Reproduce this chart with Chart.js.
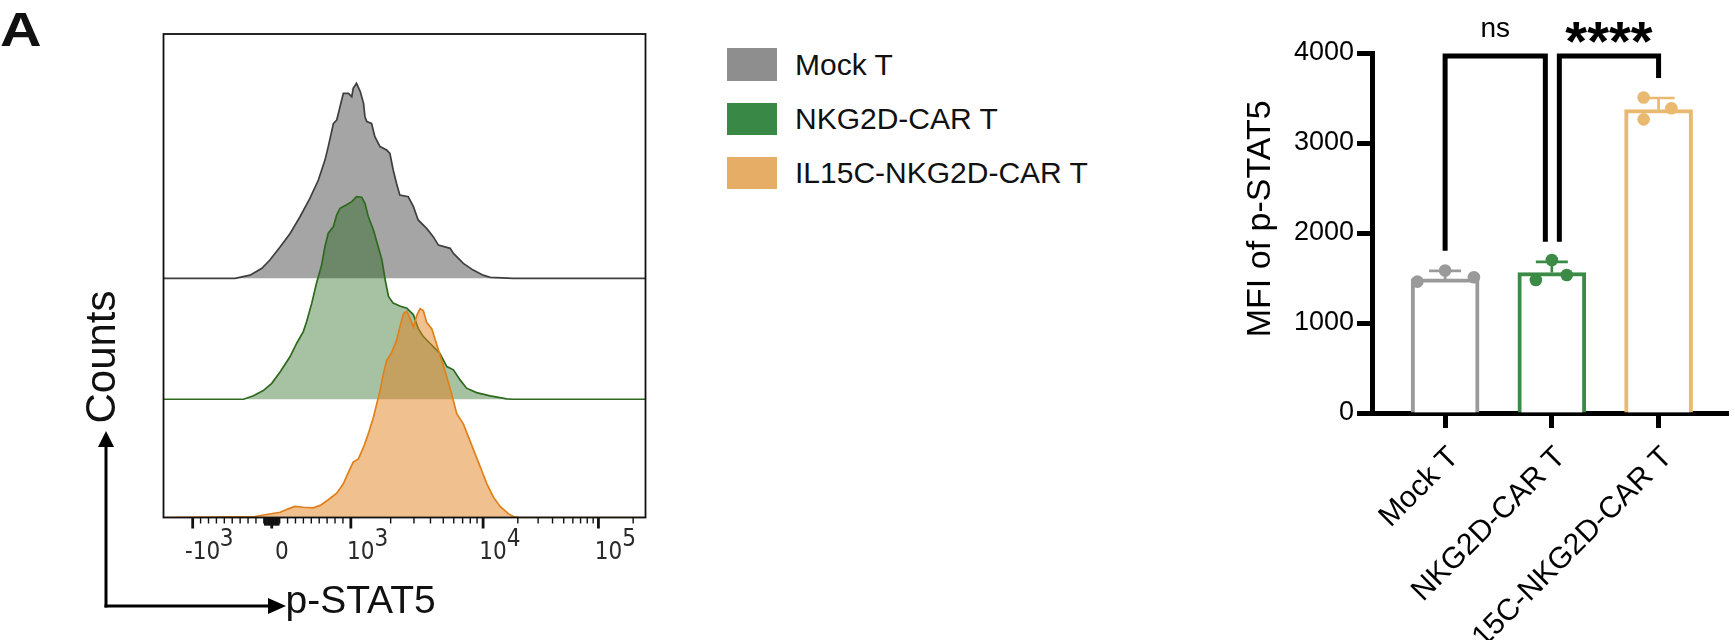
<!DOCTYPE html>
<html><head><meta charset="utf-8">
<script src="https://cdn.jsdelivr.net/npm/chart.js@4.4.1/dist/chart.umd.min.js"></script>
<style>
html,body{margin:0;padding:0;background:#fff;}
body{width:1735px;height:640px;position:relative;overflow:hidden;font-family:'Liberation Sans',Arial,sans-serif;color:#111;}
.abs{position:absolute;white-space:nowrap;line-height:1;}
canvas{position:absolute;}
.sw{position:absolute;width:50px;height:32.5px;}
</style></head><body>
<div class="abs" style="left:0;top:6px;font-size:48px;font-weight:bold;transform:scaleX(1.2);transform-origin:0 0;">A</div>
<canvas id="hist" style="left:0;top:0" width="700" height="640"></canvas>
<canvas id="bars" style="left:1240px;top:0" width="495" height="640"></canvas>
<svg style="position:absolute;left:0;top:0" width="320" height="640">
  <line x1="106" y1="607.5" x2="106" y2="446" stroke="#000" stroke-width="3"/>
  <polygon points="106,431 98,447 114,447" fill="#000"/>
  <line x1="104.5" y1="606" x2="269" y2="606" stroke="#000" stroke-width="3"/>
  <polygon points="286,606 268,598 268,614" fill="#000"/>
</svg>
<div class="abs" style="left:101px;top:357px;font-size:42px;transform:translate(-50%,-50%) rotate(-90deg);">Counts</div>
<div class="abs" style="left:285.5px;top:579.5px;font-size:39px;">p-STAT5</div>
<div id="legend"></div>
<script>
// ---------- data ----------
const GROUPS = ['Mock T', 'NKG2D-CAR T', 'IL15C-NKG2D-CAR T'];
const CATEGORIES = ['Mock T', 'NKG2D-CAR T', 'IL15C-NKG2D-CAR T'];

// histogram bins: x in display channel units (0-1024), counts normalised to mode (%)
const MOCK_CH = [0,152,184,209,226,248,269,290,311,329,343,350,361,368,375,382,393,400,403,410,418,425,428,432,442,449,460,474,481,488,495,502,520,531,541,559,573,584,609,616,637,658,679,694,743,1024];
const MOCK_COUNTS = [0,0,1.6,5.0,9.1,15.7,22.3,30.6,39.7,48.8,58.7,65.4,76.9,78.6,85.2,91.8,91.8,90.2,94.3,96.8,92.7,86.9,80.2,77.8,76.9,70.3,65.4,63.7,62.0,53.8,47.2,41.4,40.5,35.6,29.0,24.8,20.7,16.5,14.9,12.4,7.4,4.1,1.6,0.5,0,0];
const NKG_CH = [0,170,191,212,230,248,269,283,297,304,315,325,336,343,350,361,368,375,389,400,410,421,428,435,446,456,464,471,478,488,502,517,531,541,552,566,587,602,616,630,644,665,694,729,743,1024];
const NKG_COUNTS = [0,0,1.7,4.3,7.9,13.7,21.2,27.8,33.6,38.5,47.7,57.6,66.7,75.8,82.4,85.7,91.5,94.8,96.5,98.1,100.6,100.3,97.3,90.7,84.0,75.8,69.2,59.2,51.0,47.7,46.3,45.2,41.9,35.2,31.1,27.8,22.8,16.2,14.6,9.6,5.5,3.3,1.7,0.2,0,0];
const IL15_CH = [0,194,219,248,265,279,297,318,333,350,368,382,393,403,414,425,435,446,453,460,467,474,485,495,502,510,517,524,531,538,545,552,559,570,580,591,602,612,623,637,648,662,676,687,701,715,733,743,757,1024];
const IL15_COUNTS = [0,0.5,1.5,2.6,4.3,5.5,5.1,4.8,6.0,8.8,12.1,16.7,22.5,27.5,29.1,34.9,41.5,49.8,56.4,63.0,71.3,77.9,82.1,87.9,94.5,101.1,102.4,98.6,94.5,100.3,103.6,102.7,96.9,93.6,86.2,77.9,69.7,61.4,51.5,46.5,39.9,31.6,23.3,16.7,10.1,5.5,1.8,0.5,0,0];

// histogram axis ticks (fluorescence values)
const HIST_TICK_VALUES = [-1000, 0, 1000, 10000, 100000];
const HIST_TICK_BASES = ['-10', '0', '10', '10', '10'];
const HIST_TICK_EXPONENTS = ['3', '', '3', '4', '5'];

// bar chart: MFI of p-STAT5
const MEANS = [1490, 1560, 3370];
const SDS = [90, 120, 130];
const MOCK_DOTS = [1460, 1583, 1508];
const NKG_DOTS = [1478, 1700, 1533];
const IL15_DOTS = [3505, 3386, 3263];
const Y_TICKS = [0, 1000, 2000, 3000, 4000];
const SIG_PAIRS = [[0, 1], [1, 2]];
const SIG_LABELS = ['ns', '****'];

// ---------- styling / layout ----------
Chart.defaults.font.family = "'Liberation Sans', Arial, sans-serif";
Chart.defaults.color = '#000';
const LEGEND_COLORS = ['#8e8e8e', '#3a8846', '#e5ad65'];
const BAR_COLORS = ['#9a9a9a', '#3b8b47', '#e9b96f'];
const DOT_JITTER = [[-0.26, 0, 0.27], [-0.15, 0, 0.14], [-0.14, 0.12, -0.14]];
const STACK_OFFSET = [118.7, 58.7, 0];

// biexponential-like display transform (value -> channel)
const AXIS_ZERO = 230, AXIS_LIN = 168, DEC1 = 281, DEC2 = 245;
function T(v) {
  if (Math.abs(v) <= 1000) return AXIS_ZERO + AXIS_LIN * v / 1000;
  const s = Math.sign(v), a = Math.abs(v);
  const d = a <= 1e4 ? DEC1 * Math.log10(a / 1000) : DEC1 + DEC2 * Math.log10(a / 1e4);
  return AXIS_ZERO + s * (AXIS_LIN + d);
}
const MINOR_TICKS = [], FINE_TICKS = [];
for (let k = 1; k <= 9; k++) {
  MINOR_TICKS.push(-k * 100, k * 100);
  if (k > 1) MINOR_TICKS.push(k * 1000, k * 10000);
  FINE_TICKS.push(-k * 10, k * 10);
}
MINOR_TICKS.push(200000);

// legend (HTML)
const legend = document.getElementById('legend');
const swTop = [48.3, 102.7, 156.7];
GROUPS.forEach((g, i) => {
  const sq = document.createElement('div');
  sq.className = 'sw';
  sq.style.left = '727px'; sq.style.top = swTop[i] + 'px'; sq.style.background = LEGEND_COLORS[i];
  legend.appendChild(sq);
  const t = document.createElement('div');
  t.className = 'abs';
  t.style.left = '795px'; t.style.top = (swTop[i] + 1.3) + 'px'; t.style.fontSize = '30px';
  t.textContent = g;
  legend.appendChild(t);
});

// ---------- histogram ----------
function histDataset(ch, counts, off, line, fill, order) {
  return {
    type: 'line',
    data: ch.map((c, i) => ({ x: c, y: off + counts[i] })),
    borderColor: line, borderWidth: 1.7, backgroundColor: fill,
    fill: { value: off }, pointRadius: 0, tension: 0, order: order
  };
}
const histLabels = HIST_TICK_BASES.map((b, i) => {
  const e = HIST_TICK_EXPONENTS[i];
  return [e ? ' '.repeat(b.length === 3 ? 7 : 6) + e : '', b];
});
const histFrame = {
  id: 'histFrame',
  afterDatasetsDraw(chart) {
    const { ctx, chartArea: a, scales: { x } } = chart;
    ctx.save();
    ctx.strokeStyle = '#111'; ctx.lineWidth = 1.8;
    ctx.strokeRect(a.left, a.top, a.right - a.left, a.bottom - a.top);
    const tick = (v, len, w) => {
      const px = x.getPixelForValue(T(v));
      ctx.lineWidth = w; ctx.beginPath(); ctx.moveTo(px, a.bottom); ctx.lineTo(px, a.bottom + len); ctx.stroke();
    };
    ctx.strokeStyle = '#111';
    MINOR_TICKS.forEach(v => tick(v, 6, 1.4));
    FINE_TICKS.forEach(v => tick(v, 8, 1.4));
    HIST_TICK_VALUES.forEach(v => tick(v, 11, 2.8));
    ctx.restore();
  }
};
new Chart(document.getElementById('hist'), {
  type: 'line',
  data: {
    datasets: [
      histDataset(MOCK_CH, MOCK_COUNTS, STACK_OFFSET[0], '#3f3f3f', 'rgb(165,165,165)', 2),
      histDataset(NKG_CH, NKG_COUNTS, STACK_OFFSET[1], '#2e6a1d', 'rgba(10,85,0,0.36)', 1),
      histDataset(IL15_CH, IL15_COUNTS, STACK_OFFSET[2], '#e0801a', 'rgba(227,129,31,0.5)', 0)
    ]
  },
  options: {
    responsive: false, animation: false, events: [],
    layout: { padding: { left: 163.5, right: 54.5, top: 34, bottom: 62.5 } },
    plugins: { legend: { display: false }, tooltip: { enabled: false } },
    scales: {
      x: {
        type: 'linear', min: 0, max: 1024,
        grid: { display: false, drawTicks: false }, border: { display: false },
        afterBuildTicks: s => { s.ticks = HIST_TICK_VALUES.map(v => ({ value: T(v) })); },
        afterFit: s => { s.height = 60; },
        ticks: {
          autoSkip: false, minRotation: 0, maxRotation: 0, padding: 16, labelOffset: 10,
          color: '#2a2a2a', font: { family: "'Liberation Sans Narrow', 'DejaVu Sans Condensed', 'DejaVu Sans'", size: 24, lineHeight: '13px' },
          callback: (v, i) => histLabels[i]
        }
      },
      y: { display: false, min: 0, max: 240 }
    }
  },
  plugins: [histFrame]
});

// ---------- bar chart ----------
const DOTS = [MOCK_DOTS, NKG_DOTS, IL15_DOTS];
const errorBars = {
  id: 'errorBars',
  afterDatasetDraw(chart, args) {
    if (args.index !== 0) return;
    const { ctx, scales: { x, y } } = chart;
    ctx.save();
    ctx.lineWidth = 2.7;
    MEANS.forEach((m, i) => {
      const px = x.getPixelForValue(i);
      const y1 = y.getPixelForValue(m), y2 = y.getPixelForValue(m + SDS[i]);
      ctx.strokeStyle = BAR_COLORS[i];
      ctx.beginPath();
      ctx.moveTo(px, y1); ctx.lineTo(px, y2);
      ctx.moveTo(px - 16, y2); ctx.lineTo(px + 16, y2);
      ctx.stroke();
    });
    ctx.restore();
  }
};
const brackets = {
  id: 'brackets',
  afterDraw(chart) {
    const { ctx, scales: { x, y } } = chart;
    ctx.save();
    ctx.strokeStyle = '#000'; ctx.lineWidth = 5; ctx.lineJoin = 'miter'; ctx.lineCap = 'butt';
    const topY = y.getPixelForValue(4000) + 3;
    const legBottom = i => y.getPixelForValue(MEANS[i] + SDS[i]) - 20;
    SIG_PAIRS.forEach(([a, b], k) => {
      const sharedLeft = SIG_PAIRS.some(p => p[1] === a);
      const sharedRight = SIG_PAIRS.some(p => p[0] === b);
      const xl = x.getPixelForValue(a) + (sharedLeft ? 7.5 : 0);
      const xr = x.getPixelForValue(b) - (sharedRight ? 6.5 : 0);
      ctx.beginPath();
      ctx.moveTo(xl, legBottom(a)); ctx.lineTo(xl, topY); ctx.lineTo(xr, topY); ctx.lineTo(xr, legBottom(b));
      ctx.stroke();
      const cx = (xl + xr) / 2;
      ctx.fillStyle = '#000'; ctx.textAlign = 'center'; ctx.textBaseline = 'alphabetic';
      if (SIG_LABELS[k] === 'ns') {
        ctx.font = "28px 'Liberation Sans', Arial";
        ctx.fillText(SIG_LABELS[k], cx, 36.5);
      } else {
        ctx.font = "bold 56px 'Liberation Sans', Arial";
        ctx.fillText(SIG_LABELS[k], cx, 60);
      }
    });
    ctx.restore();
  }
};
new Chart(document.getElementById('bars'), {
  type: 'bar',
  data: {
    datasets: [
      {
        type: 'bar', data: MEANS.map((m, i) => ({ x: i, y: m })),
        backgroundColor: '#fff', borderColor: BAR_COLORS, borderWidth: 4, borderSkipped: 'start',
        barThickness: 68, order: 2
      },
      ...DOTS.map((vals, g) => ({
        type: 'scatter', data: vals.map((v, k) => ({ x: g + DOT_JITTER[g][k], y: v })),
        pointRadius: 6.3, pointBackgroundColor: BAR_COLORS[g], pointBorderWidth: 0, showLine: false, order: 0
      }))
    ]
  },
  options: {
    responsive: false, animation: false, events: [],
    layout: { padding: { left: 0, right: 2, top: 53, bottom: 0 } },
    plugins: { legend: { display: false }, tooltip: { enabled: false } },
    scales: {
      x: {
        type: 'linear', min: -0.685, max: 2.657, offset: false,
        grid: { display: true, offset: false, drawOnChartArea: false, drawTicks: true, tickLength: 15, tickWidth: 5, tickColor: '#000' },
        border: { display: true, width: 5, color: '#000' },
        afterBuildTicks: s => { s.ticks = CATEGORIES.map((c, i) => ({ value: i })); },
        afterFit: s => { s.height = 227; },
        ticks: {
          autoSkip: false, minRotation: 45, maxRotation: 45, padding: 12, labelOffset: 9, color: '#000',
          font: { size: 30 }, callback: v => CATEGORIES[v]
        }
      },
      y: {
        min: 0, max: 4000,
        afterBuildTicks: s => { s.ticks = Y_TICKS.map(v => ({ value: v })); },
        afterFit: s => { s.width = 132; },
        grid: { drawOnChartArea: false, tickLength: 15, tickWidth: 5, tickColor: '#000' },
        border: { width: 5, color: '#000' },
        ticks: { padding: 3, color: '#000', font: { size: 27 }, callback: v => String(v) },
        title: { display: true, text: '   MFI of p-STAT5', color: '#000', font: { size: 34 }, padding: { top: 0, bottom: 0 } }
      }
    }
  },
  plugins: [errorBars, brackets]
});
</script>
</body></html>
